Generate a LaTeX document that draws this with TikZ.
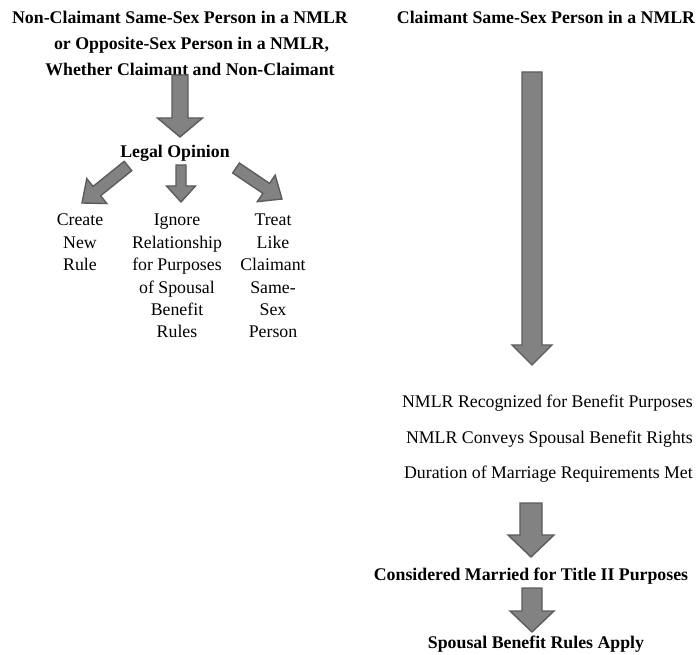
\documentclass[tikz,border=0pt]{standalone}
\usepackage{fontspec}
\setmainfont{Liberation Serif}
\usetikzlibrary{calc}
\definecolor{arrowfill}{HTML}{828282}
\definecolor{arrowdraw}{HTML}{5C5C5C}
\tikzset{
  barrow/.style={fill=arrowfill, draw=arrowdraw, line width=1.4pt, line join=miter},
  txt/.style={inner sep=0pt, font=\fontsize{17.8}{22.4}\selectfont},
  btxt/.style={txt, font=\fontsize{17.8}{22.4}\selectfont\bfseries},
}
% #1 tail, #2 tip, #3 head length, #4 shaft half width, #5 head half width
\newcommand\blkarrow[5]{%
  \coordinate (hb) at ($(#2)!#3!(#1)$);
  \draw[barrow] ($(#1)!#4!90:(#2)$) -- ($(hb)!#4!-90:(#1)$) -- ($(hb)!#5!-90:(#1)$) -- (#2)
     -- ($(hb)!#5!90:(#1)$) -- ($(hb)!#4!90:(#1)$) -- ($(#1)!#4!-90:(#2)$) -- cycle;}
\begin{document}
\begin{tikzpicture}[x=1pt,y=-1pt]
\useasboundingbox (0,0) rectangle (697,655);
% left title
\node[btxt, anchor=base] (t1) at (180,24) {Non-Claimant Same-Sex Person in a NMLR};
\node[btxt, anchor=base] (t2) at (191.5,50) {or Opposite-Sex Person in a NMLR,};
\node[btxt, anchor=base] (t3) at (190,76) {Whether Claimant and Non-Claimant};
% right title
\node[btxt, anchor=base] (rt) at (546,24) {Claimant Same-Sex Person in a NMLR};
% legal opinion
\node[btxt, anchor=base] (lo) at (175,158) {Legal Opinion};
\node[txt, anchor=north, align=center] (c1) at (80,214) {Create\\New\\Rule};
\node[txt, anchor=north, align=center] (c2) at (177,214) {Ignore\\Relationship\\for Purposes\\of Spousal\\Benefit\\Rules};
\node[txt, anchor=north, align=center] (c3) at (273,214) {Treat\\Like\\Claimant\\Same-\\Sex\\Person};
% right column texts
\node[txt, anchor=base east] (r1) at (693,408) {NMLR Recognized for Benefit Purposes};
\node[txt, anchor=base east] (r2) at (693,443) {NMLR Conveys Spousal Benefit Rights};
\node[txt, anchor=base east] (r3) at (693,478) {Duration of Marriage Requirements Met};
\node[btxt, anchor=base] (cm) at (531,580) {Considered Married for Title II Purposes};
\node[btxt, anchor=base] (sb) at (536,648) {Spousal Benefit Rules Apply};
% arrow end points
\coordinate (a1s) at (180,75);  \coordinate (a1e) at (180,137);
\coordinate (a2s) at (128,166); \coordinate (a2e) at (82,203);
\coordinate (a3s) at (181,165); \coordinate (a3e) at (181,202);
\coordinate (a4s) at (236,168); \coordinate (a4e) at (282,199);
\coordinate (a5s) at (532,72);  \coordinate (a5e) at (532,365);
\coordinate (a6s) at (531,503); \coordinate (a6e) at (531,557);
\coordinate (a7s) at (532,588); \coordinate (a7e) at (532,632);
\blkarrow{a1s}{a1e}{19pt}{8pt}{22.5pt}
\blkarrow{a2s}{a2e}{19pt}{6pt}{16pt}
\blkarrow{a3s}{a3e}{16pt}{5pt}{14.5pt}
\blkarrow{a4s}{a4e}{19pt}{6pt}{16pt}
\blkarrow{a5s}{a5e}{20pt}{10pt}{20pt}
\blkarrow{a6s}{a6e}{22pt}{11pt}{23pt}
\blkarrow{a7s}{a7e}{21pt}{10pt}{22pt}
\end{tikzpicture}
\end{document}
